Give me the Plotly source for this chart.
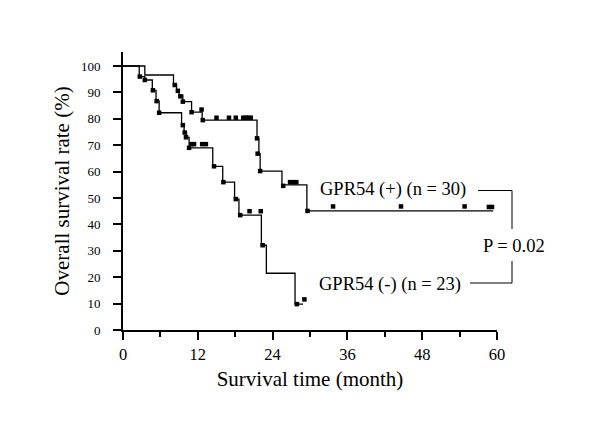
import plotly.graph_objects as go

# ---- data ----
# GPR54 (+) step curve: times (months) and survival (%)
pos_times = [0, 3.5, 8.1, 8.6, 9.0, 9.6, 11.0, 12.7, 21.5, 21.8, 22.0, 25.5, 29.5, 59.4]
pos_surv = [100, 96.6, 93.0, 91.0, 89.0, 86.5, 82.5, 79.5, 72.6, 66.8, 60.2, 55.0, 45.1, 45.1]
# GPR54 (+) tick marks (events / censored)
pos_mark_t = [8.3, 8.8, 9.2, 9.6, 11.0, 12.6, 12.8, 15.0, 17.0, 18.1, 19.3, 19.7, 20.1, 20.5,
              21.5, 21.6, 22.0, 25.7, 26.8, 27.3, 27.8, 29.6, 33.7, 44.6, 54.8, 58.7, 59.2]
pos_mark_s = [92.8, 90.6, 88.5, 86.5, 82.5, 83.5, 79.5, 80.4, 80.4, 80.4, 80.4, 80.4, 80.4, 80.4,
              72.6, 66.8, 60.2, 54.6, 56.0, 56.0, 56.0, 45.1, 46.8, 46.8, 46.8, 46.6, 46.6]

# GPR54 (-) step curve
neg_times = [0, 2.6, 3.5, 4.7, 5.3, 5.8, 9.4, 9.8, 10.2, 10.6, 14.4, 16.0, 17.9, 18.6, 22.2, 23.0, 27.6, 28.9]
neg_surv = [100, 96.0, 94.7, 90.8, 86.7, 82.3, 77.6, 74.8, 73.0, 69.0, 62.0, 56.0, 49.6, 43.5, 32.1, 21.5, 9.8, 9.8]
neg_mark_t = [2.7, 3.5, 4.8, 5.4, 5.8, 9.6, 9.9, 10.1, 10.6, 11.0, 11.4, 12.7, 13.3, 14.6, 16.1,
              18.1, 18.8, 20.3, 22.1, 22.4, 27.9, 29.1]
neg_mark_s = [96.0, 94.7, 90.8, 86.7, 82.3, 77.6, 74.8, 73.0, 69.0, 70.4, 70.4, 70.4, 70.4, 62.0, 56.0,
              49.6, 43.5, 45.0, 45.0, 32.1, 9.8, 11.6]

x_tickvals = [0, 12, 24, 36, 48, 60]
y_tickvals = [0, 10, 20, 30, 40, 50, 60, 70, 80, 90, 100]

labels = ["GPR54 (+) (n = 30)", "GPR54 (-) (n = 23)"]
p_text = "P = 0.02"

FONT = "Liberation Serif, Times New Roman, serif"

fig = go.Figure()
for t, s, mt, ms in [(pos_times, pos_surv, pos_mark_t, pos_mark_s),
                     (neg_times, neg_surv, neg_mark_t, neg_mark_s)]:
    fig.add_trace(go.Scatter(x=t, y=s, mode="lines", line=dict(color="black", width=1.3, shape="hv"),
                             showlegend=False, hoverinfo="skip"))
    fig.add_trace(go.Scatter(x=mt, y=ms, mode="markers",
                             marker=dict(symbol="square", size=4.5, color="black", line=dict(width=0)),
                             showlegend=False, cliponaxis=False))

# target plot-area edges in window pixels; the page body adds an 8px offset
OFF = 8
L, R, T, B = 123, 497, 52, 330
W, H = 600, 447
ymax = 100 * (B - T) / (B - 66)


def px(xp):
    return (xp - L) / (R - L)


def py(yp):
    return (B - yp) / (B - T)


ann_font = dict(family=FONT, size=18.5, color="black")
fig.add_annotation(x=px(318), y=py(189), xref="paper", yref="paper", text=labels[0], showarrow=False,
                   xanchor="left", yanchor="middle", font=ann_font)
fig.add_annotation(x=px(317), y=py(284), xref="paper", yref="paper", text=labels[1], showarrow=False,
                   xanchor="left", yanchor="middle", font=ann_font)
fig.add_annotation(x=px(481), y=py(246), xref="paper", yref="paper", text=p_text, showarrow=False,
                   xanchor="left", yanchor="middle", font=ann_font)

fig.add_shape(type="path", xref="paper", yref="paper",
              path=f"M {px(478)} {py(190.5)} L {px(512)} {py(190.5)} L {px(512)} {py(229)}",
              line=dict(color="black", width=1))
fig.add_shape(type="path", xref="paper", yref="paper",
              path=f"M {px(512)} {py(261)} L {px(512)} {py(283)} L {px(470)} {py(283)}",
              line=dict(color="black", width=1))

fig.update_layout(
    width=W, height=H,
    margin=dict(l=L - OFF, r=W - (R - OFF), t=T - OFF, b=H - (B - OFF), pad=0),
    paper_bgcolor="white", plot_bgcolor="white",
    font=dict(family=FONT, color="black"),
    xaxis=dict(range=[0, 60], tickvals=x_tickvals, ticks="outside", ticklen=8, tickwidth=1.5,
               tickcolor="black", showline=True, linecolor="black", linewidth=2, showgrid=False,
               zeroline=False, tickfont=dict(family=FONT, size=16.5, color="black"),
               minor=dict(dtick=6, tick0=0, ticks="outside", ticklen=5, tickwidth=1.5, tickcolor="black"),
               title=dict(text="Survival time (month)", font=dict(family=FONT, size=21, color="black"),
                          standoff=9)),
    yaxis=dict(range=[0, ymax], tickvals=y_tickvals, ticks="outside", ticklen=8, tickwidth=1.5,
               tickcolor="black", showline=True, linecolor="black", linewidth=2, showgrid=False,
               zeroline=False, tickfont=dict(family=FONT, size=13, color="black"),
               ticklabelstandoff=10,
               title=dict(text="Overall survival rate (%)", font=dict(family=FONT, size=21, color="black"),
                          standoff=6)),
)

fig.write_html("out.html")
